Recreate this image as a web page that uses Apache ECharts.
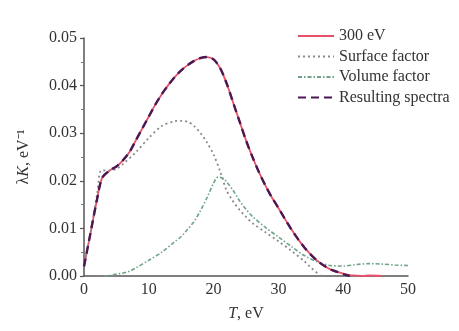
<!DOCTYPE html>
<html><head><meta charset="utf-8">
<script src="https://cdn.jsdelivr.net/npm/echarts@6/dist/echarts.min.js"></script>
<style>html,body{margin:0;padding:0;background:#fff}#c{width:459px;height:331px}</style>
</head><body><div id="c"></div>
<script>
const xTicks = [0, 10, 20, 30, 40, 50];
const yTicks = [0, 0.01, 0.02, 0.03, 0.04, 0.05];
const seriesNames = ['300 eV', 'Surface factor', 'Volume factor', 'Resulting spectra'];

const mainT = [0,1,2,2.8,4,5,6,7,8,9,10,11,12,13,14,15,16,17,18,19,20,21,22,23,24,25,26,27,28,29,30,31,32,33,34,35,36,37,38,39,40,41,42,43,44,46];
const mainV = [0.002,0.009,0.016,0.0206,0.0222,0.023,0.0243,0.026,0.0285,0.031,0.0335,0.036,0.0382,0.0401,0.0418,0.0432,0.0443,0.0452,0.0458,0.046,0.0455,0.0437,0.0405,0.0365,0.0325,0.0285,0.025,0.0218,0.019,0.0165,0.0143,0.012,0.0098,0.0078,0.006,0.0045,0.0032,0.0022,0.0014,0.0009,0.0005,0.0002,0.0001,0,0.0001,0];

const surfT = [0,1,2,2.7,4,5,6,8,10,12,14,15,16,17,18,19,20,21,22,23,24,25,26,28,30,32,34,35,36,36.5];
const surfV = [0.002,0.009,0.017,0.0222,0.0222,0.0225,0.0235,0.026,0.029,0.0315,0.0325,0.0326,0.0324,0.0315,0.030,0.028,0.0255,0.022,0.018,0.0157,0.0139,0.0124,0.0111,0.0092,0.0073,0.0053,0.0031,0.0018,0.0006,0];

const volT = [3,4,5,6,7,8,10,12,14,15,16,17,18,19,20,20.7,21.5,22,23,24,25,26,28,30,32,34,36,38,40,42,44,46,48,50];
const volV = [0,0.0001,0.0004,0.0006,0.001,0.0017,0.0033,0.005,0.0072,0.0083,0.0098,0.0115,0.0138,0.0165,0.0195,0.0208,0.0205,0.0198,0.018,0.0158,0.014,0.0125,0.0102,0.0082,0.0062,0.0043,0.003,0.0022,0.0021,0.0024,0.0026,0.0025,0.0023,0.0022];

const resT = [0,1,2,2.8,4,5,6,7,8,9,10,11,12,13,14,15,16,17,18,19,20,21,22,23,24,25,26,27,28,29,30,31,32,33,34,35,36,37,38,39,40,41];
const resV = [0.002,0.009,0.016,0.0206,0.0222,0.023,0.0243,0.026,0.0285,0.031,0.0335,0.036,0.0382,0.0401,0.0418,0.0432,0.0443,0.0452,0.0458,0.046,0.0455,0.0437,0.0405,0.0365,0.0325,0.0285,0.025,0.0218,0.019,0.0165,0.0143,0.012,0.0098,0.0078,0.006,0.0045,0.0032,0.0022,0.0014,0.0009,0.0004,0];

const zip = (a, b) => a.map((v, i) => [v, b[i]]);
const FONT = "'Liberation Serif','Times New Roman',serif";
const TXT = '#333';

const chart = echarts.init(document.getElementById('c'), null, {renderer: 'canvas'});
chart.setOption({
  animation: false,
  backgroundColor: '#fff',
  textStyle: {fontFamily: FONT},
  grid: {left: 84, right: 51, top: 38, bottom: 55, containLabel: false},
  legend: {
    orient: 'vertical', left: 292, top: 23, itemWidth: 36, itemHeight: 10, itemGap: 4.5,
    itemStyle: {opacity: 0},
    textStyle: {fontFamily: FONT, fontSize: 16, color: TXT},
    data: seriesNames
  },
  xAxis: {
    type: 'value', min: xTicks[0], max: xTicks[xTicks.length - 1], interval: 10,
    name: '{i|T}, eV', nameLocation: 'middle', nameGap: 30,
    nameTextStyle: {fontFamily: FONT, fontSize: 16, color: TXT, rich: {i: {fontStyle: 'italic', fontFamily: FONT, fontSize: 16, color: TXT}}},
    axisLine: {lineStyle: {color: '#555', width: 1.5}},
    axisTick: {show: false},
    splitLine: {show: false},
    axisLabel: {fontFamily: FONT, fontSize: 16, color: TXT, margin: 6}
  },
  yAxis: {
    type: 'value', min: yTicks[0], max: yTicks[yTicks.length - 1], interval: 0.01,
    name: 'λ{i|K}, eV⁻¹', nameLocation: 'middle', nameGap: 52, nameRotate: 90,
    nameTextStyle: {fontFamily: FONT, fontSize: 16, color: TXT, rich: {i: {fontStyle: 'italic', fontFamily: FONT, fontSize: 16, color: TXT}}},
    axisLine: {show: true, lineStyle: {color: '#555', width: 1.5}},
    axisTick: {show: true, inside: false, length: 4, lineStyle: {color: '#555', width: 1.2}},
    minorTick: {show: true, splitNumber: 2, length: 3, lineStyle: {color: '#777', width: 1}},
    splitLine: {show: false},
    axisLabel: {fontFamily: FONT, fontSize: 16, color: TXT, margin: 7, formatter: v => v.toFixed(2)}
  },
  series: [
    {name: seriesNames[0], type: 'line', showSymbol: false, symbol: 'none', smooth: 0.3, z: 2,
     data: zip(mainT, mainV), lineStyle: {color: '#e8506a', width: 1.8}, itemStyle: {color: '#e8506a'}},
    {name: seriesNames[1], type: 'line', showSymbol: false, symbol: 'none', smooth: 0.3, z: 3,
     data: zip(surfT, surfV), lineStyle: {color: '#8a8a8a', width: 1.8, type: [2, 3]}, itemStyle: {color: '#8a8a8a'}},
    {name: seriesNames[2], type: 'line', showSymbol: false, symbol: 'none', smooth: 0.3, z: 3,
     data: zip(volT, volV), lineStyle: {color: '#6fa488', width: 1.6, type: [4, 2, 1.5, 2]}, itemStyle: {color: '#6fa488'}},
    {name: seriesNames[3], type: 'line', showSymbol: false, symbol: 'none', smooth: 0.3, z: 4,
     data: zip(resT, resV), lineStyle: {color: '#4a1852', width: 2.4, type: [8, 5]}, itemStyle: {color: '#4a1852'}}
  ]
});
</script></body></html>
